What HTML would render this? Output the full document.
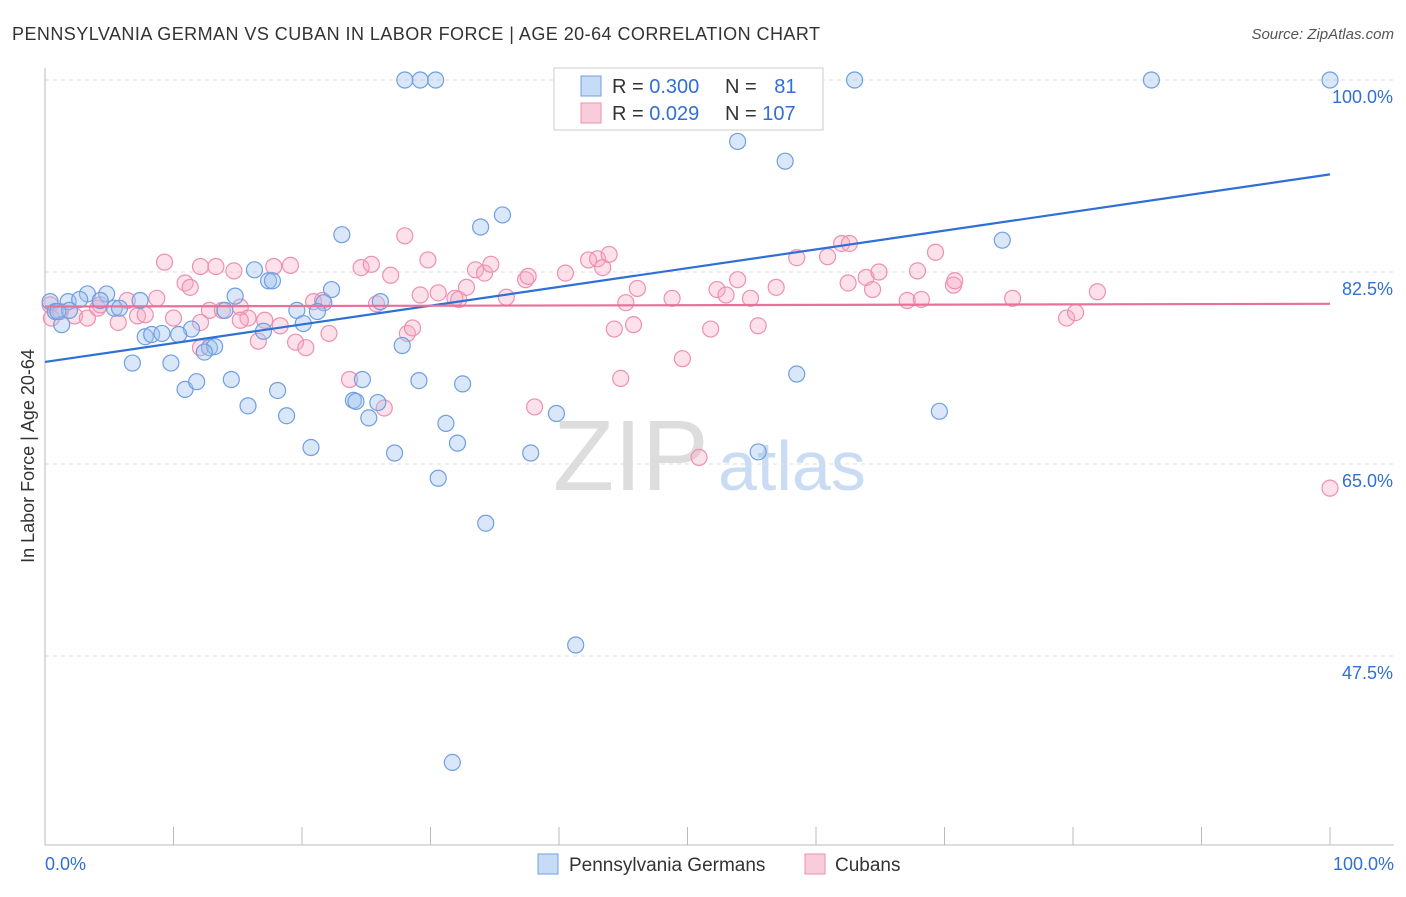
<!DOCTYPE html>
<html><head><meta charset="utf-8"><style>
body{margin:0;background:#fff;font-family:"Liberation Sans",sans-serif;}
svg text{font-family:"Liberation Sans",sans-serif;}
</style></head><body>
<svg id="chart" width="1406" height="892" xmlns="http://www.w3.org/2000/svg">
<text x="12" y="40" font-size="18" fill="#333" textLength="808" lengthAdjust="spacing">PENNSYLVANIA GERMAN VS CUBAN IN LABOR FORCE | AGE 20-64 CORRELATION CHART</text>
<text x="1394" y="39" font-size="15" fill="#555" font-style="italic" text-anchor="end">Source: ZipAtlas.com</text>
<text x="34" y="456" font-size="18" fill="#333" text-anchor="middle" transform="rotate(-90 34 456)">In Labor Force | Age 20-64</text>
<g>
<text x="553" y="490" font-size="100" fill="#ddd" font-family="Liberation Serif,serif">ZIP</text>
<text x="718" y="490" font-size="70" fill="#c9dcf3">atlas</text>
</g>
<g id="grid"></g><g id="axes"></g><g id="pts"></g><g id="trends"></g>
<g>
<rect x="554" y="68" width="269" height="62" fill="#fff" stroke="#ccc"/>
<rect x="581" y="76" width="20" height="20" fill="rgba(160,196,240,0.6)" stroke="#6f9fe0"/>
<rect x="581" y="103" width="20" height="20" fill="rgba(245,170,195,0.6)" stroke="#ef8fb0"/>
<text x="612" y="93" font-size="20" fill="#333">R = <tspan fill="#2f6fd6">0.300</tspan></text>
<text x="725" y="93" font-size="20" fill="#333">N = <tspan fill="#2f6fd6" dx="12">81</tspan></text>
<text x="612" y="120" font-size="20" fill="#333">R = <tspan fill="#2f6fd6">0.029</tspan></text>
<text x="725" y="120" font-size="20" fill="#333">N = <tspan fill="#2f6fd6">107</tspan></text>
</g>
<g>
<rect x="538" y="854" width="20" height="20" fill="rgba(160,196,240,0.6)" stroke="#6f9fe0"/>
<text x="569" y="871" font-size="19" fill="#333">Pennsylvania Germans</text>
<rect x="805" y="854" width="20" height="20" fill="rgba(245,170,195,0.6)" stroke="#ef8fb0"/>
<text x="835" y="871" font-size="19" fill="#333">Cubans</text>
</g>
</svg>
<script>
const yTicks=[100,82.5,65,47.5];
const yTickLabels=["100.0%","82.5%","65.0%","47.5%"];
const xTickLabels=["0.0%","100.0%"];
const blueX=[28.0,29.2,30.4,41.9,63.0,86.1,100,53.9,57.6,35.6,33.9,23.1,74.5,16.3,17.4,17.7,22.3,14.8,4.8,3.3,1.8,2.7,0.4,0.8,1.3,5.4,7.4,19.6,21.7,26.1,20.1,21.2,11.4,7.8,8.3,9.1,10.4,12.8,13.2,12.4,17.0,14.0,27.8,6.8,9.8,10.9,11.8,14.5,15.8,18.1,18.8,24.7,29.1,32.5,24.0,24.2,25.9,25.2,31.2,39.8,20.7,27.2,32.1,37.8,55.5,58.5,69.6,30.6,34.3,41.3,31.7,5.8,1.9,1.0,4.3];
const blueY=[100,100,100,100,100,100,100,94.4,92.6,87.7,86.6,85.9,85.4,82.7,81.7,81.7,80.9,80.3,80.5,80.5,79.8,80.0,79.8,78.9,77.7,79.2,79.9,79.0,79.7,79.8,77.8,78.9,77.3,76.6,76.8,76.9,76.8,75.6,75.7,75.2,77.1,79.0,75.8,74.2,74.2,71.8,72.5,72.7,70.3,71.7,69.4,72.7,72.6,72.3,70.8,70.7,70.6,69.2,68.7,69.6,66.5,66.0,66.9,66.0,66.1,73.2,69.8,63.7,59.6,48.5,37.8,79.2,79.0,78.9,79.9];
const pinkX=[0.4,0.5,1.2,2.3,3.3,4.1,5.7,6.4,7.2,8.7,9.3,10.0,10.9,11.3,12.1,12.1,12.8,13.3,13.8,14.7,15.2,15.8,16.6,17.1,17.8,18.3,19.1,19.5,20.3,20.9,21.6,22.1,23.7,24.6,25.4,25.8,26.4,26.9,28.0,28.2,28.6,29.2,29.8,30.6,31.9,32.2,32.8,33.5,34.2,34.7,35.9,37.4,37.6,38.1,40.5,42.3,43.0,43.4,43.9,44.3,44.8,45.2,45.8,46.1,48.8,49.6,50.9,51.8,52.3,53.0,53.9,54.9,55.5,56.9,58.5,60.9,62.0,62.6,62.5,63.9,64.4,64.9,67.1,67.9,68.2,69.3,70.7,70.8,75.3,79.5,80.2,81.9,100,4.3,7.8,12.1,15.2];
const pinkY=[79.5,78.3,78.9,78.5,78.3,79.2,77.9,79.9,78.5,80.1,83.4,78.3,81.5,81.1,75.6,83.0,79.0,83.0,79.0,82.6,79.3,78.3,76.2,78.1,83.0,77.6,83.1,76.1,75.6,79.8,79.9,76.9,72.7,82.9,83.2,79.6,70.1,82.2,85.8,76.9,77.4,80.4,83.6,80.6,80.1,80.0,81.1,82.7,82.4,83.2,80.2,81.8,82.1,70.2,82.4,83.6,83.7,82.9,84.1,77.3,72.8,79.7,77.7,81.0,80.1,74.6,65.6,77.3,80.9,80.4,81.8,80.1,77.6,81.1,83.8,83.9,85.1,85.1,81.5,82.0,80.9,82.5,79.9,82.6,80.0,84.3,81.3,81.7,80.1,78.3,78.8,80.7,62.8,79.5,78.6,77.9,78.1];
const blueTrend=[74.3,91.4];
const pinkTrend=[79.35,79.6];
const NS="http://www.w3.org/2000/svg";
const sx=v=>45+v*12.85, sy=v=>80+(100-v)*10.971;
function mk(tag,attrs,parent){const e=document.createElementNS(NS,tag);for(const k in attrs)e.setAttribute(k,attrs[k]);document.getElementById(parent).appendChild(e);return e;}
yTicks.forEach((t,i)=>{
 const l=mk('line',{x1:45,x2:1394,y1:sy(t),y2:sy(t),stroke:'#ddd','stroke-dasharray':'4,4'},'grid');
 
 
 const tx=mk('text',{x:1393,y:sy(t)+23,'font-size':18,fill:'#2f6fd6','text-anchor':'end'},'grid');
 tx.textContent=yTickLabels[i];
 
 
});
let a=mk('line',{x1:45,x2:45,y1:68,y2:845,stroke:'#bbb'},'axes');


a=mk('line',{x1:45,x2:1394,y1:845,y2:845,stroke:'#bbb'},'axes');


for(let i=0;i<=10;i++){
 const t=mk('line',{x1:sx(i*10),x2:sx(i*10),y1:827,y2:845,stroke:'#bbb'},'axes');
 
 
}
[[0,'start',45],[100,'end',1394]].forEach((d,i)=>{
 const t=mk('text',{x:d[2],y:870,'font-size':18,fill:'#2f6fd6','text-anchor':d[1]},'axes');
 t.textContent=xTickLabels[i];
 
 
});
function pts(X,Y,fill,stroke,name){X.forEach((x,i)=>{
 const c=mk('circle',{cx:sx(x),cy:sy(Y[i]),r:8,fill:fill,stroke:stroke,'stroke-width':1.2},'pts');
 
 
});}
pts(pinkX,pinkY,'rgba(245,170,195,0.35)','#ef8fb0','cuban-point');
pts(blueX,blueY,'rgba(160,196,240,0.4)','#6f9fe0','pennsylvania-german-point');
let tl=mk('line',{x1:sx(0),y1:sy(blueTrend[0]),x2:sx(100),y2:sy(blueTrend[1]),stroke:'#2f6fd6','stroke-width':2.2},'trends');


tl=mk('line',{x1:sx(0),y1:sy(pinkTrend[0]),x2:sx(100),y2:sy(pinkTrend[1]),stroke:'#e8709a','stroke-width':2.2},'trends');


</script>
</body></html>
